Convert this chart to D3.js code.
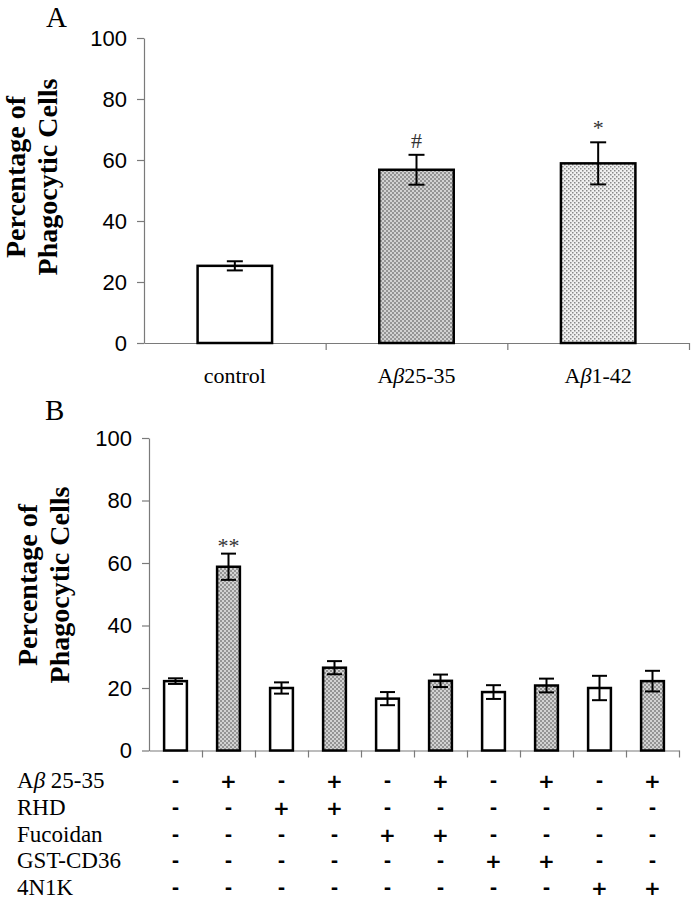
<!DOCTYPE html>
<html>
<head>
<meta charset="utf-8">
<script src="https://cdn.jsdelivr.net/npm/d3@7"></script>
<style>
  body { margin: 0; background: #fff; }
  svg { display: block; }
</style>
</head>
<body>
<svg id="chart" width="691" height="900"></svg>
<script>
// ---------- DATA ----------
const categoriesA = ["control", "Aβ25-35", "Aβ1-42"];
const valuesA = [25.3, 56.8, 58.9];
const errorsA = [1.5, 4.9, 6.9];
const markersA = ["", "#", "*"];

const valuesB = [22.2, 58.8, 20.0, 26.5, 16.6, 22.3, 18.7, 20.8, 20.0, 22.2];
const errorsB = [0.9, 4.2, 1.8, 2.1, 2.1, 2.0, 2.2, 2.2, 3.9, 3.3];
const markersB = ["", "**", "", "", "", "", "", "", "", ""];

const treatmentRows = ["Aβ 25-35", "RHD", "Fucoidan", "GST-CD36", "4N1K"];
const treatmentSigns = [
  ["-", "+", "-", "+", "-", "+", "-", "+", "-", "+"],
  ["-", "-", "+", "+", "-", "-", "-", "-", "-", "-"],
  ["-", "-", "-", "-", "+", "+", "-", "-", "-", "-"],
  ["-", "-", "-", "-", "-", "-", "+", "+", "-", "-"],
  ["-", "-", "-", "-", "-", "-", "-", "-", "+", "+"]
];
const yTicks = [0, 20, 40, 60, 80, 100];

// ---------- SETUP ----------
const svg = d3.select("#chart");
const defs = svg.append("defs");

// zigzag texture
const zz = defs.append("pattern").attr("id", "zigzag")
  .attr("width", 4).attr("height", 4).attr("patternUnits", "userSpaceOnUse");
zz.append("rect").attr("width", 4).attr("height", 4).attr("fill", "#d2d2d2");
zz.append("rect").attr("x", 0).attr("y", 0).attr("width", 2).attr("height", 2).attr("fill", "#949494");
zz.append("rect").attr("x", 2).attr("y", 2).attr("width", 2).attr("height", 2).attr("fill", "#949494");

// dotted texture
const dt = defs.append("pattern").attr("id", "dots")
  .attr("width", 4).attr("height", 4).attr("patternUnits", "userSpaceOnUse");
dt.append("rect").attr("width", 4).attr("height", 4).attr("fill", "#f0f0f0");
dt.append("rect").attr("x", 0).attr("y", 0).attr("width", 1.5).attr("height", 1.5).attr("fill", "#888");
dt.append("rect").attr("x", 2).attr("y", 2).attr("width", 1.5).attr("height", 1.5).attr("fill", "#888");

const fillA = d3.scaleOrdinal().domain(categoriesA).range(["#ffffff", "url(#zigzag)", "url(#dots)"]);
const fillB = i => (i % 2 === 0 ? "#ffffff" : "url(#zigzag)");

const serif = "'Liberation Serif', 'Times New Roman', serif";
const sans = "'Liberation Sans', Arial, sans-serif";

function styleAxis(g) {
  g.selectAll(".domain").attr("stroke", "#7a7a7a").attr("stroke-width", 1.2);
  g.selectAll(".tick line").attr("stroke", "#7a7a7a").attr("stroke-width", 1.2);
  g.selectAll(".tick text").attr("fill", "#000").style("font-family", sans).style("font-size", "22px");
}

function yTitle(cy, x1, x2) {
  const g = svg.append("g").attr("transform", `translate(0,${cy}) rotate(-90)`);
  g.append("text").attr("x", 0).attr("y", x1).attr("text-anchor", "middle")
    .style("font-family", serif).style("font-weight", "bold").style("font-size", "28px")
    .text("Percentage of");
  g.append("text").attr("x", 0).attr("y", x2).attr("text-anchor", "middle")
    .style("font-family", serif).style("font-weight", "bold").style("font-size", "28px")
    .text("Phagocytic Cells");
}

function betaText(sel, str) {
  const parts = str.split("β");
  sel.append("tspan").text(parts[0]);
  if (parts.length > 1) {
    sel.append("tspan").style("font-style", "italic").text("β");
    sel.append("tspan").text(parts[1]);
  }
}

// ---------- PANEL A ----------
const xA = d3.scaleBand().domain(categoriesA).range([144, 689]);
const yA = d3.scaleLinear().domain([0, 100]).range([343, 38]);
const barWA = xA.bandwidth() * 0.41;

svg.append("g").attr("transform", "translate(144,0)")
  .call(d3.axisLeft(yA).tickValues(yTicks).tickSize(7).tickSizeOuter(0).tickPadding(10))
  .call(styleAxis);

const edgesA = d3.scaleLinear().domain([0, categoriesA.length]).range([144, 689]);
svg.append("g").attr("transform", `translate(0,${yA(0)})`)
  .call(d3.axisBottom(edgesA).tickValues(d3.range(1, categoriesA.length + 1)).tickSize(7).tickSizeOuter(0).tickFormat(""))
  .call(styleAxis);

const gA = svg.append("g");
categoriesA.forEach((c, i) => {
  const cx = xA(c) + xA.bandwidth() / 2;
  gA.append("rect")
    .attr("x", cx - barWA / 2).attr("y", yA(valuesA[i]))
    .attr("width", barWA).attr("height", yA(0) - yA(valuesA[i]))
    .attr("fill", fillA(c)).attr("stroke", "#000").attr("stroke-width", 2.5);
  const top = yA(valuesA[i] + errorsA[i]), bot = yA(valuesA[i] - errorsA[i]);
  gA.append("line").attr("x1", cx).attr("x2", cx).attr("y1", top).attr("y2", bot).attr("stroke", "#000").attr("stroke-width", 2);
  gA.append("line").attr("x1", cx - 8).attr("x2", cx + 8).attr("y1", top).attr("y2", top).attr("stroke", "#000").attr("stroke-width", 2);
  gA.append("line").attr("x1", cx - 8).attr("x2", cx + 8).attr("y1", bot).attr("y2", bot).attr("stroke", "#000").attr("stroke-width", 2);
  if (markersA[i]) {
    gA.append("text").attr("x", cx).attr("y", top - 7).attr("text-anchor", "middle")
      .style("font-family", serif).style("font-size", "22px").attr("fill", "#333").text(markersA[i]);
  }
  const t = gA.append("text").attr("x", cx).attr("y", 383).attr("text-anchor", "middle")
    .style("font-family", serif).style("font-size", "22px");
  betaText(t, c);
});

svg.append("text").attr("x", 46).attr("y", 27).style("font-family", serif).style("font-size", "29px").text("A");
yTitle(177, 25, 57);

// ---------- PANEL B ----------
const idxB = d3.range(valuesB.length);
const xB = d3.scaleBand().domain(idxB).range([149, 679]);
const yB = d3.scaleLinear().domain([0, 100]).range([750.5, 438]);
const barWB = xB.bandwidth() * 0.43;

svg.append("g").attr("transform", "translate(149,0)")
  .call(d3.axisLeft(yB).tickValues(yTicks).tickSize(7).tickSizeOuter(0).tickPadding(10))
  .call(styleAxis);

const edgesB = d3.scaleLinear().domain([0, valuesB.length]).range([149, 679]);
svg.append("g").attr("transform", `translate(0,${yB(0)})`)
  .call(d3.axisBottom(edgesB).tickValues(d3.range(1, valuesB.length + 1)).tickSize(7).tickSizeOuter(0).tickFormat(""))
  .call(styleAxis);

const gB = svg.append("g");
idxB.forEach(i => {
  const cx = xB(i) + xB.bandwidth() / 2;
  gB.append("rect")
    .attr("x", cx - barWB / 2).attr("y", yB(valuesB[i]))
    .attr("width", barWB).attr("height", yB(0) - yB(valuesB[i]))
    .attr("fill", fillB(i)).attr("stroke", "#000").attr("stroke-width", 2.5);
  const top = yB(valuesB[i] + errorsB[i]), bot = yB(valuesB[i] - errorsB[i]);
  gB.append("line").attr("x1", cx).attr("x2", cx).attr("y1", top).attr("y2", bot).attr("stroke", "#000").attr("stroke-width", 2);
  gB.append("line").attr("x1", cx - 7.5).attr("x2", cx + 7.5).attr("y1", top).attr("y2", top).attr("stroke", "#000").attr("stroke-width", 2);
  gB.append("line").attr("x1", cx - 7.5).attr("x2", cx + 7.5).attr("y1", bot).attr("y2", bot).attr("stroke", "#000").attr("stroke-width", 2);
  if (markersB[i]) {
    gB.append("text").attr("x", cx).attr("y", top - 1).attr("text-anchor", "middle")
      .style("font-family", serif).style("font-size", "22px").attr("fill", "#333").text(markersB[i]);
  }
});

svg.append("text").attr("x", 45).attr("y", 420).style("font-family", serif).style("font-size", "29px").text("B");
yTitle(585, 37, 69);

// treatment table
const rowY = d3.scalePoint().domain(treatmentRows).range([788, 895]);
treatmentRows.forEach((r, ri) => {
  const t = svg.append("text").attr("x", 17).attr("y", rowY(r))
    .style("font-family", serif).style("font-size", "23px");
  betaText(t, r);
  treatmentSigns[ri].forEach((s, ci) => {
    const cx = xB(ci) + xB.bandwidth() / 2;
    svg.append("text").attr("x", cx).attr("y", rowY(r) + (s === "+" ? 0 : -1))
      .attr("text-anchor", "middle")
      .style("font-family", "'DejaVu Sans', sans-serif").style("font-weight", "bold")
      .style("font-size", s === "+" ? "20px" : "18px")
      .text(s);
  });
});
</script>
</body>
</html>
